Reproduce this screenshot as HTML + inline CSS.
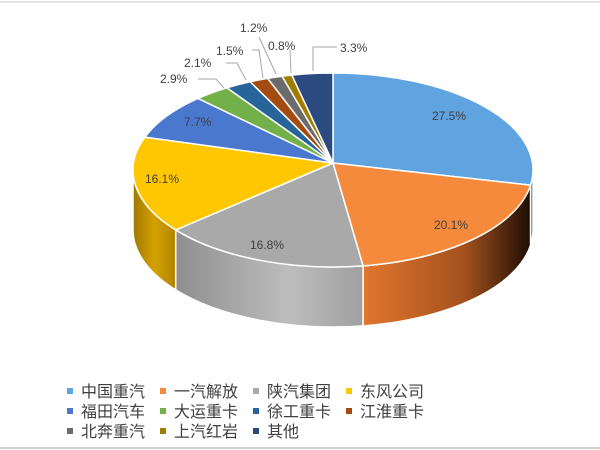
<!DOCTYPE html>
<html><head><meta charset="utf-8"><style>
body{margin:0;background:#fff;}
svg{display:block;font-family:"Liberation Sans","Noto Sans CJK SC",sans-serif;}
</style></head><body>
<svg id="s" width="600" height="450" viewBox="0 0 600 450">
<defs>
<linearGradient id="gO" x1="0" x2="1"><stop offset="0" stop-color="#e2762c"/><stop offset="0.6" stop-color="#a4521e"/><stop offset="1" stop-color="#1e0e04"/></linearGradient>
<linearGradient id="gG" x1="0" x2="1"><stop offset="0" stop-color="#8e8e8e"/><stop offset="0.6" stop-color="#bdbdbd"/><stop offset="1" stop-color="#a0a0a0"/></linearGradient>
<linearGradient id="gY" x1="0" x2="1"><stop offset="0" stop-color="#a07800"/><stop offset="0.5" stop-color="#d4a200"/><stop offset="1" stop-color="#b08400"/></linearGradient>
<linearGradient id="gB" x1="0" x2="1"><stop offset="0" stop-color="#4a8acb"/><stop offset="1" stop-color="#203040"/></linearGradient>
</defs>
<line x1="0" y1="2" x2="600" y2="2" stroke="#e4e4e4" stroke-width="2"/>
<line x1="0" y1="448" x2="600" y2="448" stroke="#d0d0d0" stroke-width="2"/>
<g id="pie"></g>
<g fill="none" stroke="#a6a6a6" stroke-width="1">
<polyline points="198,79 216,79 224,88"/>
<polyline points="226,63 237,63 246,80"/>
<polyline points="252,50 259,50 263,78"/>
<polyline points="259,37 276,74"/>
<polyline points="290,50 291,73"/>
<polyline points="337,47 313,47 313,71"/>
</g>
<g font-size="12" fill="#404040">
<text x="432" y="120">27.5%</text>
<text x="434" y="229">20.1%</text>
<text x="250" y="249">16.8%</text>
<text x="145" y="183">16.1%</text>
<text x="184" y="126">7.7%</text>
<text x="160" y="83">2.9%</text>
<text x="184" y="67">2.1%</text>
<text x="216" y="55">1.5%</text>
<text x="240" y="32">1.2%</text>
<text x="268" y="50">0.8%</text>
<text x="340" y="52">3.3%</text>
</g>
<g id="leg" font-size="16" fill="#404040"></g>
</svg>
<script>
var cx=333,cy=170,rx=200,ry=97,d=60;
var vals=[27.5,20.1,16.8,16.1,7.7,2.9,2.1,1.5,1.2,0.8,3.3];
var cols=["#5fa3e0","#f58a3c","#a9a9a9","#ffc700","#4a78cf","#72b04a","#27649a","#a44c10","#6b6b6b","#a07c00","#2a4a80"];
var side={0:"url(#gB)",1:"url(#gO)",2:"url(#gG)",3:"url(#gY)"};
function P(a,dy){a=a*Math.PI/180;return [cx+rx*Math.sin(a),cy-ry*Math.cos(a)+(dy||0)];}
var g=document.getElementById('pie'),h='',sides='',a=0;
var segs=[];
vals.forEach(function(v,i){var a2=a+v*3.6;segs.push([a,a2]);a=a2;});
segs.forEach(function(s,i){
 var s1=Math.max(s[0],90),s2=Math.min(s[1],270);
 if(s2>s1){var p1=P(s1),p2=P(s2),q1=P(s1,d),q2=P(s2,d);
 sides+='<path d="M'+p1+' A'+rx+','+ry+' 0 0 1 '+p2+' L'+q2+' A'+rx+','+ry+' 0 0 0 '+q1+' Z" fill="'+(side[i]||cols[i])+'" stroke="#fff" stroke-width="1.5"/>';}
 var p1=P(s[0]),p2=P(s[1]),lg=(s[1]-s[0])>180?1:0;
 h+='<path d="M'+cx+','+(cy-7)+' L'+p1+' A'+rx+','+ry+' 0 '+lg+' 1 '+p2+' Z" fill="'+cols[i]+'" stroke="#fff" stroke-width="1.5"/>';
});
g.innerHTML=sides+h;
var names=["中国重汽","一汽解放","陕汽集团","东风公司","福田汽车","大运重卡","徐工重卡","江淮重卡","北奔重汽","上汽红岩","其他"];
var lx=[70,163,256,349],L='';
names.forEach(function(n,i){var r=Math.floor(i/4),c=i%4,y=391+r*20;
 L+='<rect x="'+(lx[c]-3)+'" y="'+(y-3)+'" width="6" height="6" fill="'+cols[i]+'"/><text x="'+(lx[c]+11)+'" y="'+(y+6)+'">'+n+'</text>';});
document.getElementById('leg').innerHTML=L;
</script>
</body></html>
